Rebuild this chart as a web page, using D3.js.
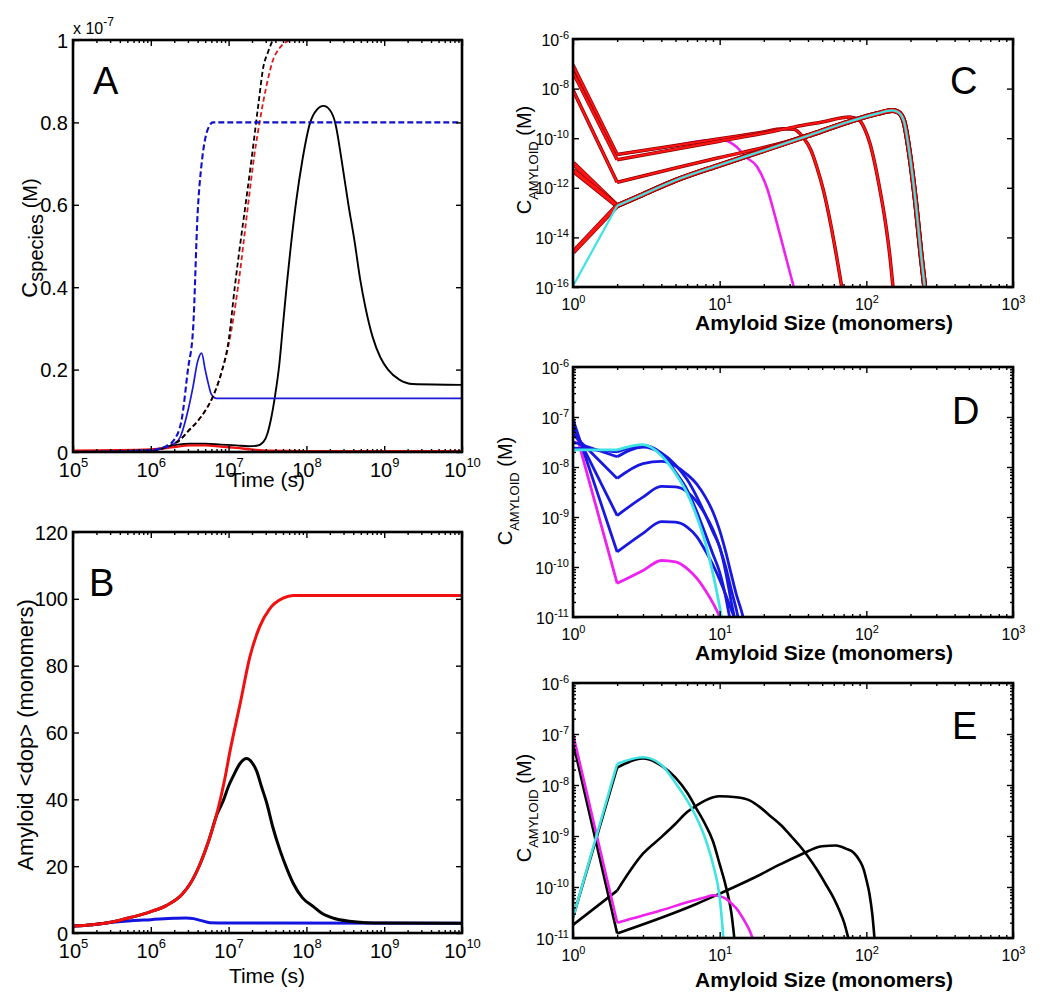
<!DOCTYPE html>
<html><head><meta charset="utf-8">
<script src="https://cdn.jsdelivr.net/npm/d3@7"></script>
<style>body{margin:0;background:#fff}svg{display:block}</style>
</head><body>
<svg id="fig" width="1050" height="1006"></svg>
<script>
// ---------------- DATA ----------------
// Panel A : time (s) vs C_species (units of 1e-7 M)
const timeA_blueDash  = [1e5,1e6,1.6e6,2e6,2.5e6,3e6,3.5e6,4e6,4.5e6,5e6,5.6e6,6.3e6,1e10];
const concA_blueDash  = [0,0.005,0.015,0.03,0.08,0.2,0.3,0.58,0.7,0.76,0.79,0.8,0.8];
const timeA_blueSolid = [1e5,1e6,1.5e6,2e6,2.4e6,3e6,3.5e6,4e6,4.5e6,5e6,5.5e6,6e6,7e6,1e10];
const concA_blueSolid = [0,0.003,0.01,0.02,0.037,0.1,0.16,0.22,0.24,0.2,0.165,0.14,0.13,0.13];
const timeA_blackDash = [1e5,1e6,1.5e6,2e6,2.4e6,3e6,4e6,5e6,6.3e6,8e6,1e7,1.2e7,1.4e7,1.65e7,2e7,2.4e7,2.8e7,3.2e7,3.7e7];
const concA_blackDash = [0,0.003,0.01,0.02,0.03,0.05,0.075,0.1,0.135,0.19,0.27,0.4,0.5,0.6,0.72,0.84,0.935,0.97,1.0];
const timeA_redDash   = [1e5,1e6,1.5e6,2e6,2.4e6,3e6,4e6,5e6,6.3e6,8e6,1e7,1.32e7,1.78e7,2.14e7,2.5e7,3.16e7,3.7e7,4.5e7,6.2e7];
const concA_redDash   = [0,0.003,0.01,0.02,0.03,0.05,0.075,0.1,0.135,0.19,0.26,0.4,0.6,0.72,0.8,0.9,0.95,0.98,1.0];
const timeA_blackSolid = [1e5,1e6,1.58e6,2.24e6,3.16e6,5e6,7.9e6,1.26e7,1.78e7,2.29e7,2.82e7,3.16e7,3.55e7,3.98e7,4.47e7,5.01e7,5.62e7,6.31e7,7.41e7,8.91e7,1.12e8,1.35e8,1.66e8,2.0e8,2.34e8,2.88e8,3.47e8,4.17e8,4.9e8,5.75e8,7.08e8,8.91e8,1.12e9,1.58e9,2.34e9,1e10];
const concA_blackSolid = [0.002,0.005,0.012,0.018,0.02,0.02,0.018,0.016,0.014,0.015,0.025,0.045,0.085,0.14,0.21,0.31,0.41,0.5,0.61,0.71,0.8,0.83,0.84,0.83,0.8,0.7,0.6,0.51,0.42,0.35,0.28,0.23,0.2,0.175,0.165,0.163];
const timeA_redSolid  = [1e5,1e6,2e6,3.16e6,5e6,7.9e6,1.26e7,2e7,3.16e7,1e8,1e10];
const concA_redSolid  = [0.003,0.006,0.012,0.016,0.016,0.013,0.01,0.006,0.003,0.002,0.002];

// Panel B : time (s) vs amyloid <dop> (monomers)
const timeB_red   = [1e5,1.78e5,3.16e5,5.62e5,1e6,1.58e6,2.51e6,3.16e6,4.27e6,5.62e6,7.08e6,8.91e6,1.05e7,1.41e7,1.88e7,2.51e7,3.39e7,5.01e7,6.76e7,1e10];
const dopB_red    = [2.1,2.5,3.3,4.7,6.4,8.2,11.5,14.5,20.5,28,35.8,46,54.8,68.7,82.7,91.7,97.1,100.2,101,101];
const timeB_black = [1e5,1.78e5,3.16e5,5.62e5,1e6,1.58e6,2.51e6,3.16e6,4.27e6,5.62e6,7.08e6,8.51e6,1e7,1.15e7,1.41e7,1.7e7,2e7,2.29e7,2.63e7,3.09e7,3.72e7,4.57e7,5.62e7,6.76e7,8.91e7,1.23e8,1.58e8,2.24e8,3.55e8,5.89e8,1e9,1e10];
const dopB_black  = [2.1,2.5,3.3,4.7,6.4,8.2,11.5,14.5,20.5,28,35.5,39.5,44,47,50.8,52.2,51,48.5,44,38.9,31.5,24.8,19.2,14.9,10.5,7.9,5.9,4.4,3.5,3.1,3.0,2.9];
const timeB_blue  = [1e5,1.78e5,3.16e5,5.62e5,1e6,2e6,2.82e6,3.55e6,4.47e6,5.75e6,1e7,1e10];
const dopB_blue   = [2.1,2.5,3.2,3.7,4.0,4.4,4.5,4.3,3.7,3.1,3.0,2.9];

// Panel C : amyloid size vs concentration (M)
const sizeC_magenta = [1,2,4,9,11,13,15,18,21,24,28,32];
const concC_magenta = [7.9e-8,2.2e-11,4.0e-11,8.5e-11,7.9e-11,4.5e-11,1.8e-11,7.1e-12,1.0e-12,6.3e-14,2.0e-15,1e-16];
const sizeC_redA = [1,2,10,19,27,32,37,42,46,51,56,62,68];
const concC_redA = [8.9e-8,2.2e-11,9.5e-11,1.7e-10,2.4e-10,2.3e-10,1.1e-10,3.2e-11,6.8e-12,7.9e-13,6.3e-14,2.5e-15,1e-16];
const sizeC_redB = [1,2,10,19,32,50,77,90,98,106,115,124,135,145,152];
const concC_redB = [4.5e-8,1.35e-11,7.6e-11,1.5e-10,2.8e-10,4.5e-10,7.1e-10,5.2e-10,2.2e-10,6.0e-11,7.9e-12,7.9e-13,4.0e-14,1.6e-15,1e-16];
const sizeC_redC = [1,2,5,10,20,40,77,120,150,165,180,198,218,236,250];
const concC_redC = [8.7e-9,1.66e-12,6.3e-12,1.66e-11,4.2e-11,1.26e-10,4.7e-10,1.0e-9,1.32e-9,1.12e-9,5.0e-10,2.0e-11,2.0e-13,2.0e-15,1e-16];
const concC_redLowStart = [1.0e-11,5.0e-12,2.5e-15];   // size-1 values of red curves that join the cyan one
const sizeC_cyan = [1,2,3,5,10,20,40,77,120,150,165,180,198,218,236,250];
const concC_cyan = [1.1e-16,1.9e-13,5.4e-13,2.0e-12,8.3e-12,3.2e-11,1.26e-10,4.7e-10,1.0e-9,1.32e-9,1.12e-9,5.0e-10,2.0e-11,2.0e-13,2.0e-15,1e-16];

// Panel D
const sizeD = [1,2,3,4,5,6,7,8,9,10,11,12,13,14,15];
const concD_magenta = [7.9e-8,4.7e-11,8.5e-11,1.35e-10,1.26e-10,9.3e-11,5.9e-11,3.4e-11,1.9e-11,1.0e-11,4e-12];
const concD_blue1 = [8.9e-8,2.0e-10,4.7e-10,8.1e-10,7.9e-10,6.3e-10,4.0e-10,2.1e-10,1.1e-10,5.6e-11,2.8e-11,1.4e-11,7.9e-12];
const concD_blue2 = [6.3e-8,1.07e-9,2.5e-9,4.1e-9,4.0e-9,3.2e-9,2.0e-9,1.1e-9,5.6e-10,2.5e-10,1.0e-10,3.5e-11,1.4e-11,5.0e-12];
const concD_blue3 = [4.5e-8,5.9e-9,1.17e-8,1.3e-8,1.05e-8,7.1e-9,4.5e-9,2.5e-9,1.26e-9,5.4e-10,2.0e-10,7.1e-11,2.8e-11,1.4e-11,6.3e-12];
const concD_blue4 = [3.2e-8,1.6e-8,2.5e-8,1.9e-8,1.1e-8,5.6e-9,2.5e-9,1.1e-9,5.0e-10,2.5e-10,7.9e-11,2.0e-11,6.3e-12];
const concD_blue5 = [2.4e-8,2.0e-8,2.7e-8,1.9e-8,7.9e-9,3.5e-9,1.26e-9,4.5e-10,1.8e-10,7.9e-11,2.5e-11,6.3e-12];
const concD_cyan  = [2.2e-8,2.2e-8,2.8e-8,1.7e-8,7.4e-9,3.0e-9,1.0e-9,3.0e-10,7.4e-11,1.6e-11,3.2e-12];

// Panel E
const sizeE_magenta = [1,2,4,6,8,9,10,11,12,13,14,15,16,17];
const concE_magenta = [1.0e-7,2.0e-11,3.5e-11,5.0e-11,6.3e-11,6.9e-11,6.6e-11,5.9e-11,4.8e-11,3.8e-11,2.8e-11,2.0e-11,1.4e-11,8.9e-12];
const sizeE_cyan = [1,2,3,4,5,6,7,8,9,10,11];
const concE_cyan = [2.5e-11,2.6e-8,3.5e-8,2.5e-8,1.1e-8,5.0e-9,2.2e-9,8.7e-10,2.8e-10,6.3e-11,2.5e-12];
const sizeE_black1 = [1,2,7,10,17,26,35,50,62,73,82,90,96,100,105,110,114];
const concE_black1 = [6.9e-8,1.23e-11,4.7e-11,7.4e-11,1.5e-10,2.8e-10,4.2e-10,6.3e-10,6.5e-10,5.6e-10,4.7e-10,3.3e-10,2.2e-10,1.4e-10,7.4e-11,2.8e-11,8.9e-12];
const sizeE_black2 = [1,2,3,4,5,6,7,8,10,13,16,19,22,26,30,35,39,46,53,60,66,71,75,80];
const concE_black2 = [1.8e-11,8.5e-11,4.5e-10,9.5e-10,1.74e-9,2.95e-9,4.0e-9,5.0e-9,6.0e-9,5.75e-9,5.0e-9,3.6e-9,2.5e-9,1.66e-9,1.07e-9,6.5e-10,4.4e-10,2.2e-10,1.12e-10,6.0e-11,3.3e-11,1.9e-11,1.05e-11,5.0e-12];
const sizeE_black3 = [1,2,3,4,5,6,7,8,9,10,11,12,13];
const concE_black3 = [2.5e-11,2.2e-8,3.3e-8,2.4e-8,1.4e-8,7.1e-9,3.3e-9,1.66e-9,7.9e-10,2.8e-10,1.05e-10,3.2e-11,4.0e-12];

// Tick values / labels
const timeTicks = [1e5,1e6,1e7,1e8,1e9,1e10];
const timeTickExp = ["5","6","7","8","9","10"];
const specTicks = [0,0.2,0.4,0.6,0.8,1];
const specTickLabels = ["0","0.2","0.4","0.6","0.8","1"];
const dopTicks = [0,20,40,60,80,100,120];
const dopTickLabels = ["0","20","40","60","80","100","120"];
const sizeTicks = [1,10,100,1000];
const sizeTickExp = ["0","1","2","3"];
const concTicksC = [1e-16,1e-14,1e-12,1e-10,1e-8,1e-6];
const concTickExpC = ["-16","-14","-12","-10","-8","-6"];
const concTicksDE = [1e-11,1e-10,1e-9,1e-8,1e-7,1e-6];
const concTickExpDE = ["-11","-10","-9","-8","-7","-6"];

// ---------------- DRAWING ----------------
const FONT = '"Liberation Sans", Arial, Helvetica, sans-serif';
const svg = d3.select("#fig");
svg.append("rect").attr("width",1050).attr("height",1006).attr("fill","#fff");

function minorLog(lo, hi) {
  const out = [];
  for (let e = lo; e < hi; e++) for (let m = 2; m <= 9; m++) out.push(m * Math.pow(10, e));
  return out;
}
function zip(xs, ys) { return ys.map((v, i) => [xs[i], v]); }

function makePanel(id, box, xDom, yDom, yLog) {
  const g = svg.append("g");
  const x = d3.scaleLog().domain(xDom).range([box.x0, box.x1]);
  const y = (yLog ? d3.scaleLog() : d3.scaleLinear()).domain(yDom).range([box.y1, box.y0]);
  svg.append("clipPath").attr("id", "clip" + id).append("rect")
    .attr("x", box.x0).attr("y", box.y0).attr("width", box.x1 - box.x0).attr("height", box.y1 - box.y0);
  const plot = g.append("g").attr("clip-path", `url(#clip${id})`);
  return {g, x, y, plot, box};
}

function ticks(p, side, values, len, labelFn) {
  const b = p.box;
  let ax, tr;
  if (side === "bottom") { ax = d3.axisBottom(p.x); tr = `translate(0,${b.y1})`; }
  if (side === "top")    { ax = d3.axisTop(p.x);    tr = `translate(0,${b.y0})`; }
  if (side === "left")   { ax = d3.axisLeft(p.y);   tr = `translate(${b.x0},0)`; }
  if (side === "right")  { ax = d3.axisRight(p.y);  tr = `translate(${b.x1},0)`; }
  ax.tickValues(values).tickSizeInner(-len).tickSizeOuter(0).tickFormat(() => "");
  const g = p.g.append("g").attr("transform", tr).attr("font-family", FONT).call(ax);
  g.select(".domain").remove();
  g.selectAll(".tick line").attr("stroke", "#000").attr("stroke-width", 1.4);
  if (labelFn) g.selectAll(".tick text").each(function(d, i) { labelFn(d3.select(this).attr("fill", "#000"), d, i); });
  return g;
}

function powLabel(sel, base, exp, bs, es, edy) {
  sel.text(null);
  sel.append("tspan").attr("font-size", bs).text(base);
  sel.append("tspan").attr("font-size", es).attr("dy", -edy).text(exp);
}

function drawLine(p, pts, st, split) {
  const line = d3.line().x(d => p.x(d[0])).y(d => p.y(d[1]));
  const parts = split ? [[pts.slice(0, 2), d3.curveLinear], [pts.slice(1), d3.curveMonotoneX]]
                      : [[pts, d3.curveMonotoneX]];
  const layers = st.under ? [[st.under, st.underWidth], [st.color, st.width]] : [[st.color, st.width]];
  layers.forEach(([c, w]) => parts.forEach(([d, cv]) => {
    p.plot.append("path").attr("d", line.curve(cv)(d)).attr("fill", "none")
      .attr("stroke", c).attr("stroke-width", w).attr("stroke-linejoin", "round")
      .attr("stroke-dasharray", st.dash || null);
  }));
}

function frame(p) {
  const b = p.box;
  p.g.append("rect").attr("x", b.x0).attr("y", b.y0).attr("width", b.x1 - b.x0).attr("height", b.y1 - b.y0)
    .attr("fill", "none").attr("stroke", "#000").attr("stroke-width", 2.6);
}

function text(x, y, str, size, opts = {}) {
  const t = svg.append("text").attr("x", x).attr("y", y).attr("font-family", FONT)
    .attr("font-size", size).attr("fill", "#000").text(str);
  if (opts.anchor) t.attr("text-anchor", opts.anchor);
  if (opts.weight) t.attr("font-weight", opts.weight);
  return t;
}

function rotTitle(x, y, parts) {
  const t = svg.append("text").attr("transform", `translate(${x},${y}) rotate(-90)`)
    .attr("text-anchor", "middle").attr("font-family", FONT).attr("fill", "#000");
  parts.forEach(pt => t.append("tspan").attr("font-size", pt.size).attr("dy", pt.dy || 0).text(pt.t));
  return t;
}

// ---- time panels ----
function timeAxes(p, yTicks, yLabels) {
  ticks(p, "bottom", timeTicks, 6, (s, d) => {
    s.attr("y", 25).attr("dy", null).attr("text-anchor", "middle");
    powLabel(s, "10", timeTickExp[timeTicks.indexOf(d)], 20, 13, 10);
  });
  ticks(p, "top", timeTicks, 6);
  ticks(p, "bottom", minorLog(5, 10), 3);
  ticks(p, "top", minorLog(5, 10), 3);
  ticks(p, "left", yTicks, 6, (s, d) => {
    s.attr("x", -5).attr("dy", "0.35em").attr("font-size", 20).attr("text-anchor", "end")
     .text(yLabels[yTicks.indexOf(d)]);
  });
  ticks(p, "right", yTicks, 6);
}

// Panel A
const pA = makePanel("A", {x0:73, x1:462, y0:40, y1:452}, [1e5, 1e10], [0, 1], false);
drawLine(pA, zip(timeA_blackSolid, concA_blackSolid), {color:"#000", width:1.9});
drawLine(pA, zip(timeA_redSolid, concA_redSolid), {color:"#ee1111", width:2.4});
drawLine(pA, zip(timeA_blueSolid, concA_blueSolid), {color:"#1a1ad6", width:1.7});
drawLine(pA, zip(timeA_redDash, concA_redDash), {color:"#e01818", width:1.8, dash:"5,3"});
drawLine(pA, zip(timeA_blackDash, concA_blackDash), {color:"#000", width:1.8, dash:"5,3"});
drawLine(pA, zip(timeA_blueDash, concA_blueDash), {color:"#1010c8", width:2.1, dash:"6,3"});
timeAxes(pA, specTicks, specTickLabels);
frame(pA);
const xl = text(73, 34, "", 16);
xl.append("tspan").text("x 10");
xl.append("tspan").attr("font-size", 12).attr("dy", -8).text("-7");
rotTitle(37, 238, [{t:"C", size:22}, {t:"species", size:20, dy:6}, {t:" (M)", size:20, dy:-6}]);
text(267, 487, "Time (s)", 21, {anchor:"middle"});
text(93, 94, "A", 38);

// Panel B
const pB = makePanel("B", {x0:73, x1:462, y0:532, y1:933}, [1e5, 1e10], [0, 120], false);
drawLine(pB, zip(timeB_blue, dopB_blue), {color:"#1414e0", width:3});
drawLine(pB, zip(timeB_black, dopB_black), {color:"#000", width:3});
drawLine(pB, zip(timeB_red, dopB_red), {color:"#f01010", width:3});
timeAxes(pB, dopTicks, dopTickLabels);
frame(pB);
rotTitle(33, 735, [{t:"Amyloid <dop> (monomers)", size:22}]);
text(267, 983, "Time (s)", 21, {anchor:"middle"});
text(89, 596, "B", 38);

// ---- size panels ----
function sizeAxes(p, yTicks, yExp, yMinor) {
  ticks(p, "bottom", sizeTicks, 6, (s, d) => {
    s.attr("y", 23).attr("dy", null).attr("text-anchor", "middle");
    powLabel(s, "10", sizeTickExp[sizeTicks.indexOf(d)], 16, 11, 7);
  });
  ticks(p, "top", sizeTicks, 6);
  ticks(p, "bottom", minorLog(0, 3), 3);
  ticks(p, "top", minorLog(0, 3), 3);
  ticks(p, "left", yTicks, 6, (s, d) => {
    s.attr("x", -4).attr("dy", 6).attr("text-anchor", "end");
    powLabel(s, "10", yExp[yTicks.indexOf(d)], 16, 11, 7);
  });
  ticks(p, "right", yTicks, 6);
  if (yMinor) { ticks(p, "left", yMinor, 3); ticks(p, "right", yMinor, 3); }
}
function concTitle(x, y) {
  rotTitle(x, y, [{t:"C", size:20}, {t:"AMYLOID", size:13, dy:7}, {t:" (M)", size:20, dy:-7}]);
}
const sizeLabel = "Amyloid Size (monomers)";

// Panel C
const pC = makePanel("C", {x0:573, x1:1013, y0:39, y1:287}, [1, 1000], [1e-16, 1e-6], true);
const redStyle = {color:"#ff1414", width:2.1, under:"#8a0000", underWidth:3.5};
drawLine(pC, zip(sizeC_magenta, concC_magenta), {color:"#ee22ee", width:2.6}, true);
drawLine(pC, zip(sizeC_redA, concC_redA), redStyle, true);
drawLine(pC, zip(sizeC_redB, concC_redB), redStyle, true);
drawLine(pC, zip(sizeC_redC, concC_redC), redStyle, true);
const cyanTail = zip(sizeC_cyan, concC_cyan).slice(1);
concC_redLowStart.forEach(v => drawLine(pC, [[1, v]].concat(cyanTail),
  {color:"#ff1414", width:3.6, under:"#8a0000", underWidth:5.0}, true));
drawLine(pC, zip(sizeC_cyan, concC_cyan), {color:"#3fe3e3", width:2.2}, true);
sizeAxes(pC, concTicksC, concTickExpC, null);
frame(pC);
concTitle(531, 160);
text(824, 330, sizeLabel, 21, {anchor:"middle", weight:"bold"});
text(950, 94, "C", 38);

// Panel D
const pD = makePanel("D", {x0:573, x1:1013, y0:367, y1:617}, [1, 1000], [1e-11, 1e-6], true);
const blueStyle = {color:"#1818e0", width:2.8};
drawLine(pD, zip(sizeD, concD_magenta), {color:"#ee22ee", width:2.8}, true);
[concD_blue1, concD_blue2, concD_blue3, concD_blue4, concD_blue5].forEach(c =>
  drawLine(pD, zip(sizeD, c), blueStyle, true));
drawLine(pD, zip(sizeD, concD_cyan), {color:"#3fe3e3", width:2.8}, true);
sizeAxes(pD, concTicksDE, concTickExpDE, minorLog(-11, -6));
frame(pD);
concTitle(512, 491);
text(824, 660, sizeLabel, 21, {anchor:"middle", weight:"bold"});
text(952, 424, "D", 38);

// Panel E
const pE = makePanel("E", {x0:573, x1:1013, y0:683, y1:938}, [1, 1000], [1e-11, 1e-6], true);
const blackStyle = {color:"#000", width:2.6};
drawLine(pE, zip(sizeE_black1, concE_black1), blackStyle, true);
drawLine(pE, zip(sizeE_black2, concE_black2), blackStyle, true);
drawLine(pE, zip(sizeE_black3, concE_black3), blackStyle, true);
drawLine(pE, zip(sizeE_magenta, concE_magenta), {color:"#ee22ee", width:2.6}, true);
drawLine(pE, zip(sizeE_cyan, concE_cyan), {color:"#3fe3e3", width:2.6}, true);
sizeAxes(pE, concTicksDE, concTickExpDE, minorLog(-11, -6));
frame(pE);
concTitle(531, 808);
text(824, 987, sizeLabel, 21, {anchor:"middle", weight:"bold"});
text(952, 739, "E", 38);
</script>
</body></html>
